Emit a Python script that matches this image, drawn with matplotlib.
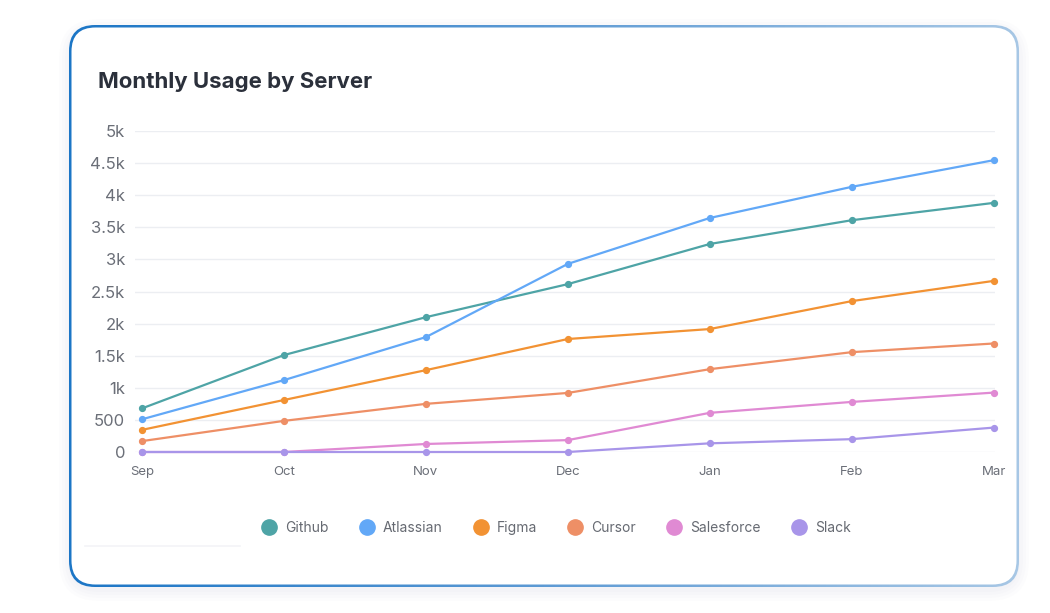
import numpy as np
import matplotlib
matplotlib.use('Agg')
import matplotlib.pyplot as plt
from matplotlib.patches import FancyBboxPatch
from matplotlib.ticker import FuncFormatter

plt.rcParams['font.family'] = ['Inter', 'DejaVu Sans']

# Data
months = ['Sep', 'Oct', 'Nov', 'Dec', 'Jan', 'Feb', 'Mar']
github = [680, 1510, 2100, 2615, 3240, 3610, 3880]
atlassian = [510, 1120, 1790, 2930, 3645, 4130, 4545]
figma = [345, 810, 1275, 1760, 1915, 2350, 2665]
cursor = [170, 485, 750, 920, 1290, 1555, 1690]
salesforce = [0, 0, 125, 185, 610, 780, 925]
slack = [0, 0, 0, 0, 135, 200, 380]

series = [
    ('Github', github, '#4ea4a6'),
    ('Atlassian', atlassian, '#62a8f7'),
    ('Figma', figma, '#f29233'),
    ('Cursor', cursor, '#ee8f66'),
    ('Salesforce', salesforce, '#e08ad3'),
    ('Slack', slack, '#a895e9'),
]

W, H = 1050, 613
fig = plt.figure(figsize=(W / 100, H / 100), dpi=100)
fig.patch.set_facecolor('#ffffff')

# background card with gradient border
bg = fig.add_axes([0, 0, 1, 1])
bg.set_xlim(0, W)
bg.set_ylim(H, 0)
bg.axis('off')

# soft shadow
for i, a in enumerate([0.018, 0.018, 0.02, 0.025]):
    grow = 14 - i * 3
    sh = FancyBboxPatch((69 - grow + 4, 25 - grow + 8), 950 + 2 * grow - 8, 562 + 2 * grow - 8,
                        boxstyle='round,pad=0,rounding_size=%d' % (26 + grow),
                        fc='#8090a8', ec='none', alpha=a)
    bg.add_patch(sh)

outer = FancyBboxPatch((69, 25), 950, 562, boxstyle='round,pad=0,rounding_size=26',
                       fc='none', ec='none')
bg.add_patch(outer)
grad = np.linspace(0, 1, 256).reshape(1, -1)
cmap = matplotlib.colors.LinearSegmentedColormap.from_list('b', ['#1c76c6', '#5d9ad4', '#a7c7e5'])
im = bg.imshow(grad, extent=[69, 1019, 587, 25], cmap=cmap, aspect='auto', zorder=1)
im.set_clip_path(outer)
inner = FancyBboxPatch((71.5, 27.5), 945, 557, boxstyle='round,pad=0,rounding_size=24',
                       fc='white', ec='none', zorder=2)
bg.add_patch(inner)
bg.plot([85, 240], [546, 546], color='#f3f4f7', lw=1.2, zorder=3)

fig.text(98 / W, 1 - 82 / H, 'Monthly Usage by Server', fontsize=16, fontweight='bold',
         color='#2b303b', va='center', ha='left')

ax = fig.add_axes([135 / W, 1 - 452 / H, 860 / W, 321 / H])
ax.set_facecolor('none')
x = np.arange(len(months))
for name, vals, col in series:
    ax.plot(x, vals, color=col, lw=1.6, marker='o', markersize=4.2, label=name,
            clip_on=False, zorder=3)

ax.set_xlim(-0.05, 6.01)
ax.set_ylim(0, 5000)
ax.set_yticks(np.arange(0, 5001, 500))
ax.yaxis.set_major_formatter(FuncFormatter(
    lambda v, p: '0' if v == 0 else ('%gk' % (v / 1000) if v >= 1000 else '%d' % v)))
ax.set_xticks(x)
ax.set_xticklabels(months)
ax.grid(axis='y', color='#eceef2', lw=1)
ax.set_axisbelow(True)
for s in ax.spines.values():
    s.set_visible(False)
ax.tick_params(axis='y', length=0, pad=7, labelsize=12, labelcolor='#6b6f78')
ax.tick_params(axis='x', length=0, pad=10, labelsize=9.5, labelcolor='#6b6f78')

handles = [plt.Line2D([], [], ls='none', marker='o', markersize=11, color=c) for _, _, c in series]
leg = fig.legend(handles, [s[0] for s in series], loc='center', ncol=6,
                 bbox_to_anchor=(553 / W, 1 - 528 / H), frameon=False, fontsize=10,
                 handletextpad=0.15, columnspacing=1.75, labelcolor='#666a72')

fig.savefig('out.png', dpi=100)
